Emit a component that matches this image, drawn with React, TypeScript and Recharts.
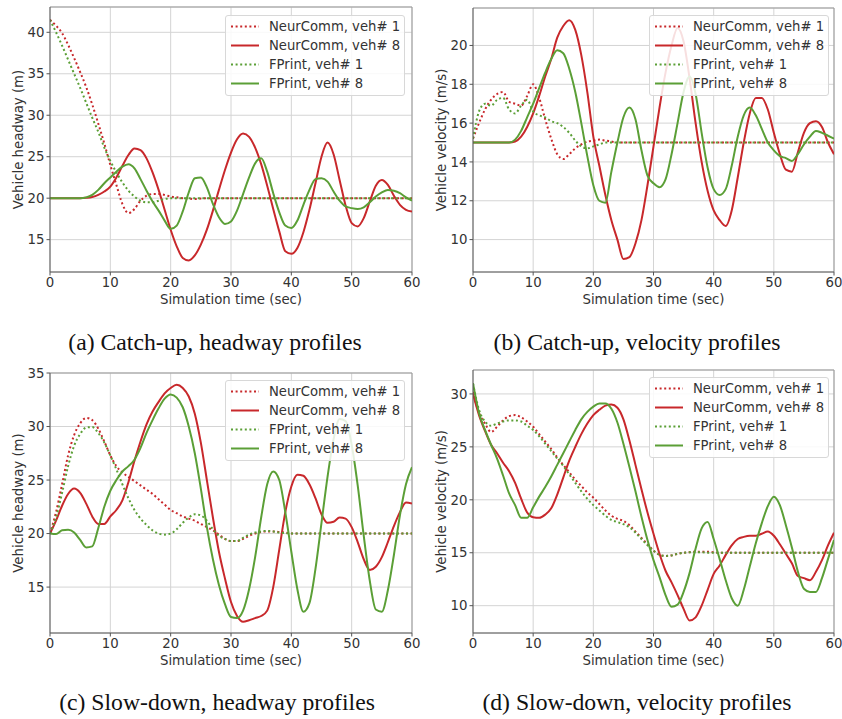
import React from 'react';
import { LineChart, Line, XAxis, YAxis, CartesianGrid, Legend, ReferenceLine } from 'recharts';

// ---------- data ----------
const T = [0,1,2,3,4,5,6,7,8,9,10,11,12,13,14,15,16,17,18,19,20,21,22,23,24,25,26,27,28,29,30,31,32,33,34,35,36,37,38,39,40,41,42,43,44,45,46,47,48,49,50,51,52,53,54,55,56,57,58,59,60];
const X_TICKS = [0, 10, 20, 30, 40, 50, 60];

// (a) catch-up headway
const aN1 = [41.5,40.8,39.9,38.5,36.9,35.2,33.4,31.3,29.0,26.6,24.0,21.6,19.3,18.2,18.7,19.7,20.3,20.5,20.5,20.4,20.2,20.1,20.0,19.95,19.9,19.95,20,20,20,20,20,20,20,20,20,20,20,20,20,20,20,20,20,20,20,20,20,20,20,20,20,20,20,20,20,20,20,20,20,20,20];
const aN8 = [20,20,20,20,20,20,20.05,20.15,20.4,20.8,21.4,22.5,23.9,25.2,26.0,25.8,24.8,23.1,21.0,18.6,16.2,14.2,12.8,12.5,13.1,14.4,16.2,18.5,21.0,23.4,25.5,27.1,27.8,27.4,26.1,24.1,21.5,18.7,16.0,13.6,13.3,14.0,15.9,18.6,21.8,25.0,26.7,25.3,22.2,19.1,17.0,16.6,17.6,19.6,21.5,22.2,21.6,20.3,19.2,18.6,18.4];
const aF1 = [41.5,40.0,38.4,36.7,35.0,33.3,31.5,29.7,28.0,26.1,24.5,23.1,21.9,20.9,20.2,19.7,19.5,19.5,19.7,19.9,20.0,20,20,20,20,20,20,20,20,20,20,20,20,20,20,20,20,20,20,20,20,20,20,20,20,20,20,20,20,20,20,20,20,20,20,20,20,20,20,20,20];
const aF8 = [20,20,20,20,20,20,20.1,20.4,21.0,21.8,22.5,23.2,23.8,24.1,23.6,22.3,20.9,19.6,18.5,17.3,16.3,16.7,18.4,20.7,22.4,22.5,21.3,19.3,17.7,16.9,17.2,18.5,20.5,22.5,24.2,24.8,23.2,20.6,18.3,16.7,16.4,17.3,19.2,21.0,22.3,22.4,22.0,20.8,19.7,19.0,18.8,18.7,18.9,19.5,20.2,20.7,21.0,20.9,20.6,20.1,19.7];

// (b) catch-up velocity
const bN1 = [15.2,16.0,16.7,17.2,17.5,17.6,17.1,17.0,16.9,17.4,18.0,17.3,16.2,15.2,14.4,14.15,14.4,14.7,14.9,15.05,15.1,15.15,15.1,15.05,15,15,15,15,15,15,15,15,15,15,15,15,15,15,15,15,15,15,15,15,15,15,15,15,15,15,15,15,15,15,15,15,15,15,15,15,15];
const bN8 = [15,15,15,15,15,15,15,15.05,15.3,15.8,16.5,17.4,18.4,19.3,20.4,21.0,21.3,20.8,19.5,17.6,15.3,13.8,12.3,11.0,10.0,9.0,9.1,9.8,11.0,12.8,14.8,16.8,18.6,20.0,20.9,20.2,18.3,16.0,14.0,12.5,11.5,11.0,10.7,11.5,13.2,15.0,16.5,17.3,17.3,16.7,15.5,14.4,13.6,13.5,14.5,15.5,16.0,16.1,15.8,15.0,14.4];
const bF1 = [15.2,16.6,17.0,16.9,17.2,17.3,16.7,16.5,16.9,17.2,16.6,16.4,16.3,16.1,16.0,15.8,15.5,15.1,14.8,14.7,14.8,14.9,15,15,15,15,15,15,15,15,15,15,15,15,15,15,15,15,15,15,15,15,15,15,15,15,15,15,15,15,15,15,15,15,15,15,15,15,15,15,15];
const bF8 = [15,15,15,15,15,15,15,15.15,15.6,16.3,17.0,17.8,18.6,19.3,19.75,19.6,18.8,17.6,16.0,14.3,12.8,12.0,11.9,13.5,15.0,16.3,16.8,16.2,14.6,13.3,12.9,12.7,13.1,14.4,16.0,17.6,18.4,17.5,15.5,13.7,12.6,12.3,12.6,13.8,15.3,16.4,16.8,16.4,15.7,15.0,14.6,14.3,14.2,14.05,14.4,14.9,15.3,15.6,15.5,15.35,15.2];

// (c) slow-down headway
const cN1 = [20,22,24.6,27.3,29.2,30.3,30.8,30.6,29.8,28.6,27.3,26.3,25.7,25.3,24.9,24.5,24.1,23.7,23.2,22.7,22.2,21.9,21.6,21.4,21.2,20.9,20.6,20.3,19.9,19.5,19.3,19.3,19.5,19.8,20.0,20.15,20.2,20.2,20.15,20.1,20,20,20,20,20,20,20,20,20,20,20,20,20,20,20,20,20,20,20,20,20];
const cN8 = [20,21.2,22.6,23.7,24.2,23.8,22.8,21.6,20.9,20.9,21.6,22.2,23.1,24.8,26.8,28.6,30.2,31.4,32.3,33.1,33.6,33.9,33.6,32.8,31.2,28.5,25.0,21.5,18.3,15.8,13.6,12.3,11.75,11.9,12.1,12.3,12.8,15.0,18.5,22.0,24.4,25.5,25.4,24.6,23.3,21.8,21.0,21.1,21.5,21.4,20.6,19.2,17.6,16.6,16.9,17.8,19.2,20.7,22.0,22.9,22.8];
const cF1 = [20,21.5,23.8,26.3,28.2,29.3,29.9,29.95,29.4,28.5,27.3,26.0,24.6,23.3,22.2,21.4,20.8,20.3,20.0,19.9,20.0,20.4,21.0,21.5,21.8,21.7,21.2,20.4,19.8,19.5,19.3,19.3,19.6,19.9,20.1,20.2,20.25,20.2,20.1,20.05,20,20,20,20,20,20,20,20,20,20,20,20,20,20,20,20,20,20,20,20,20];
const cF8 = [20.0,19.95,20.3,20.35,20.1,19.4,18.7,18.8,20.5,22.5,24.0,25.0,25.8,26.3,26.9,28.0,29.4,30.6,31.7,32.6,33.0,32.7,31.8,30.0,27.5,24.2,20.6,17.6,15.2,13.4,12.2,12.1,12.8,14.8,17.8,21.5,24.6,25.8,25.0,22.0,18.3,14.8,12.7,13.5,16.7,21.0,25.3,28.8,30.7,30.5,28.3,24.5,19.8,15.6,12.9,12.7,14.7,18.0,21.7,24.6,26.2];

// (d) slow-down velocity
const dN1 = [30.2,28.2,27.2,26.4,26.9,27.5,27.9,28.0,27.8,27.4,26.9,26.2,25.5,24.8,24.0,23.3,22.6,21.9,21.3,20.7,20.2,19.6,19.0,18.5,18.2,18.0,17.6,17.0,16.4,15.8,15.2,14.8,14.7,14.75,14.9,15.0,15.05,15.1,15.1,15.1,15.05,15,15,15,15,15,15,15,15,15,15,15,15,15,15,15,15,15,15,15,15];
const dN8 = [30.0,28.0,26.5,25.2,24.4,23.5,22.7,21.6,20.1,18.8,18.35,18.3,18.6,19.2,20.5,22.1,23.7,25.0,26.2,27.2,28.0,28.5,28.9,29.0,28.7,27.6,25.6,23.3,21.0,18.8,16.8,14.9,13.3,12.2,11.0,9.7,8.6,8.9,10.0,11.5,13.0,13.8,14.8,15.7,16.3,16.5,16.6,16.6,16.8,17.0,16.6,15.8,14.9,14.0,12.8,12.6,12.4,13.2,14.3,15.7,16.9];
const dF1 = [31,28.5,27.4,27.0,27.2,27.4,27.5,27.5,27.4,27.0,26.6,26.0,25.3,24.6,23.9,23.2,22.4,21.6,20.8,20.1,19.5,19.0,18.5,18.1,17.9,17.7,17.4,16.9,16.3,15.7,15.2,14.8,14.7,14.75,14.9,15.0,15.05,15.05,15.05,15,15,15,15,15,15,15,15,15,15,15,15,15,15,15,15,15,15,15,15,15,15];
const dF8 = [31.0,28.2,26.6,25.2,23.9,22.3,20.6,19.5,18.3,18.3,19.3,20.3,21.2,22.2,23.3,24.4,25.5,26.6,27.6,28.3,28.8,29.1,29.1,28.6,27.3,25.3,23.1,20.8,18.4,16.2,14.3,12.7,11.0,9.9,10.1,11.3,13.1,15.4,17.3,17.9,16.3,14.4,12.4,10.7,10.0,11.5,13.7,15.9,17.8,19.4,20.3,19.5,17.6,15.5,13.2,11.6,11.3,11.3,12.6,14.4,16.2];

const SERIES_NAMES = ['NeurComm, veh# 1', 'NeurComm, veh# 8', 'FPrint, veh# 1', 'FPrint, veh# 8'];
const CAPTIONS = [
  '(a) Catch-up, headway profiles',
  '(b) Catch-up, velocity profiles',
  '(c) Slow-down, headway profiles',
  '(d) Slow-down, velocity profiles',
];
const Y_LABELS = ['Vehicle headway (m)', 'Vehicle velocity (m/s)'];

// ---------- styling ----------
const RED = '#c8282b';
const GREEN = '#5b9f36';
const STYLES = [
  { key: 'n1', color: RED, dash: '2 2.6' },
  { key: 'n8', color: RED, dash: undefined },
  { key: 'f1', color: GREEN, dash: '2 2.6' },
  { key: 'f8', color: GREEN, dash: undefined },
];
const FONT = '"DejaVu Sans", sans-serif';
const TXT = '#333';

function buildRows(n1: number[], n8: number[], f1: number[], f8: number[]) {
  return T.map((t, i) => ({ t, n1: n1[i], n8: n8[i], f1: f1[i], f8: f8[i] }));
}

const renderLegend = () => (
  <div
    style={{
      width: 180,
      height: 81,
      boxSizing: 'border-box',
      border: '1px solid #d8d8d8',
      borderRadius: 3,
      background: 'rgba(255,255,255,0.85)',
      paddingTop: 1,
      fontFamily: FONT,
      fontSize: 13.2,
      color: TXT,
    }}
  >
    {SERIES_NAMES.map((name, i) => (
      <div key={name} style={{ height: 19, display: 'flex', alignItems: 'center' }}>
        <svg width={38} height={19} style={{ flex: 'none' }}>
          <line
            x1={5}
            x2={33}
            y1={9.5}
            y2={9.5}
            stroke={STYLES[i].color}
            strokeWidth={2}
            strokeDasharray={STYLES[i].dash}
          />
        </svg>
        <span style={{ marginLeft: 5, whiteSpace: 'nowrap', lineHeight: '19px' }}>{name}</span>
      </div>
    ))}
  </div>
);

type PanelProps = {
  left: number;
  top: number;
  rows: any[];
  yDomain: [number, number];
  yTicks: number[];
  yLabel: string;
  margin: { top: number; right: number; bottom: number; left: number };
  yAxisWidth: number;
  yLabelX: number;
  legendLeft: number;
  legendTop: number;
};

function Panel(p: PanelProps) {
  return (
    <div style={{ position: 'absolute', left: p.left, top: p.top }}>
      <LineChart width={421} height={320} data={p.rows} margin={p.margin}>
        <CartesianGrid stroke="#d4d4d4" strokeWidth={1} />
        <XAxis
          dataKey="t"
          type="number"
          domain={[0, 60]}
          ticks={X_TICKS}
          allowDataOverflow
          height={33}
          tickSize={3.5}
          tickMargin={2}
          axisLine={{ stroke: '#555', strokeWidth: 1 }}
          tickLine={{ stroke: '#555' }}
          tick={{ fontSize: 13.3, fill: TXT, fontFamily: FONT }}
          label={{ value: 'Simulation time (sec)', position: 'insideBottom', offset: 1, fontSize: 13.3, fill: TXT, fontFamily: FONT }}
        />
        <YAxis
          type="number"
          domain={p.yDomain}
          ticks={p.yTicks}
          allowDataOverflow
          width={p.yAxisWidth}
          tickSize={3.5}
          tickMargin={2}
          axisLine={{ stroke: '#555', strokeWidth: 1 }}
          tickLine={{ stroke: '#555' }}
          tick={{ fontSize: 13.3, fill: TXT, fontFamily: FONT }}
          label={{
            value: p.yLabel,
            angle: -90,
            position: 'insideLeft',
            offset: p.yLabelX,
            fontSize: 13.3,
            fill: TXT,
            fontFamily: FONT,
            style: { textAnchor: 'middle' },
          }}
        />
        <ReferenceLine x={60} stroke="#999" strokeWidth={1} />
        <ReferenceLine y={p.yDomain[1]} stroke="#999" strokeWidth={1} />
        {STYLES.map((s, i) => (
          <Line
            key={s.key}
            dataKey={s.key}
            name={SERIES_NAMES[i]}
            type="monotone"
            stroke={s.color}
            strokeWidth={2}
            strokeDasharray={s.dash}
            dot={false}
            activeDot={false}
            isAnimationActive={false}
          />
        ))}
        <Legend
          layout="vertical"
          align="center"
          verticalAlign="middle"
          content={renderLegend}
          wrapperStyle={{ position: 'absolute', left: p.legendLeft, top: p.legendTop, width: 180, height: 81 }}
        />
      </LineChart>
    </div>
  );
}

function Caption({ text, cx, top }: { text: string; cx: number; top: number }) {
  return (
    <div
      style={{
        position: 'absolute',
        left: cx - 210,
        top,
        width: 420,
        textAlign: 'center',
        fontFamily: '"Liberation Serif", "Times New Roman", serif',
        fontSize: 23.7,
        lineHeight: '30px',
        color: '#111',
        whiteSpace: 'nowrap',
      }}
    >
      {text}
    </div>
  );
}

export default function App() {
  return (
    <div style={{ position: 'absolute', left: 0, top: 0, width: 842, height: 719, background: '#fff', overflow: 'hidden' }}>
      <Panel
        left={0}
        top={0}
        rows={buildRows(aN1, aN8, aF1, aF8)}
        yDomain={[11.1, 43.05]}
        yTicks={[15, 20, 25, 30, 35, 40]}
        yLabel={Y_LABELS[0]}
        margin={{ top: 7, right: 9, bottom: 15, left: 0 }}
        yAxisWidth={50}
        yLabelX={18.7}
        legendLeft={225}
        legendTop={15}
      />
      <Panel
        left={421}
        top={0}
        rows={buildRows(bN1, bN8, bF1, bF8)}
        yDomain={[8.33, 21.93]}
        yTicks={[10, 12, 14, 16, 18, 20]}
        yLabel={Y_LABELS[1]}
        margin={{ top: 8, right: 8, bottom: 15, left: 0 }}
        yAxisWidth={52}
        yLabelX={20}
        legendLeft={228}
        legendTop={15}
      />
      <Panel
        left={0}
        top={360}
        rows={buildRows(cN1, cN8, cF1, cF8)}
        yDomain={[10.71, 35]}
        yTicks={[15, 20, 25, 30, 35]}
        yLabel={Y_LABELS[0]}
        margin={{ top: 13, right: 9, bottom: 14, left: 0 }}
        yAxisWidth={50}
        yLabelX={18.7}
        legendLeft={225}
        legendTop={20}
      />
      <Panel
        left={421}
        top={360}
        rows={buildRows(dN1, dN8, dF1, dF8)}
        yDomain={[7.42, 32.26]}
        yTicks={[10, 15, 20, 25, 30]}
        yLabel={Y_LABELS[1]}
        margin={{ top: 10, right: 8, bottom: 14, left: 0 }}
        yAxisWidth={52}
        yLabelX={20}
        legendLeft={228}
        legendTop={17}
      />
      <Caption text={CAPTIONS[0]} cx={215} top={327} />
      <Caption text={CAPTIONS[1]} cx={637} top={327} />
      <Caption text={CAPTIONS[2]} cx={217} top={687} />
      <Caption text={CAPTIONS[3]} cx={637} top={687} />
    </div>
  );
}
